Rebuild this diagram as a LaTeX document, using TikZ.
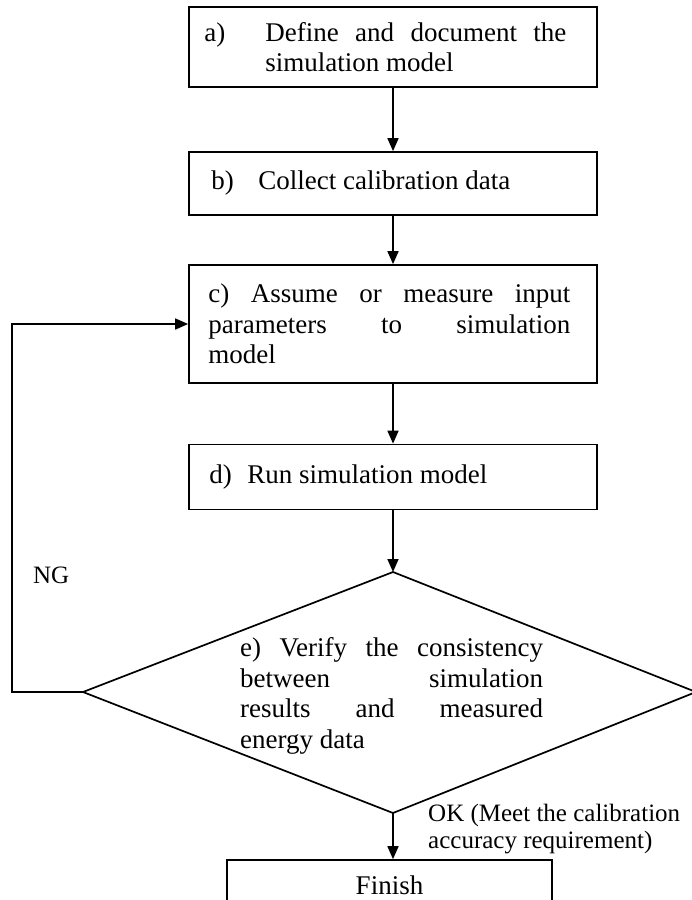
\documentclass[tikz,border=0pt]{standalone}
\usepackage{fontspec}
\setmainfont{Liberation Serif}
\usetikzlibrary{arrows.meta}
\hbadness=10000
\begin{document}
\begin{tikzpicture}[x=1pt,y=-1pt,
  boxst/.style={draw, line width=1.7pt, minimum width=408pt, inner sep=0pt},
  txt/.style={inner sep=0pt, font=\fontsize{27}{30.5}\selectfont, anchor=west},
  lbl/.style={inner sep=0pt, font=\fontsize{25}{27}\selectfont, align=left},
  arr/.style={line width=1.7pt, -{Triangle[length=13pt,width=11pt]}},
  lin/.style={line width=1.7pt, line join=miter}]
\useasboundingbox (0,0) rectangle (692,900);
% boxes
\node[boxst, minimum height=80pt] (a) at (393,47) {};
\node[boxst, minimum height=63pt] (b) at (393,183.5) {};
\node[boxst, minimum height=118pt] (c) at (393,324) {};
\node[boxst, minimum height=65pt] (d) at (393,477) {};
\node[draw, line width=1.7pt, minimum width=325pt, minimum height=50pt, inner sep=0pt] (f) at (389.5,885) {};
% diamond
\coordinate (et) at (393,572);
\coordinate (el) at (83,692);
\coordinate (er) at (696,692);
\coordinate (eb) at (393,813);
\draw[lin] (et) -- (er) -- (eb) -- (el) -- cycle;
% texts
\node[txt] (ta) at ([xshift=16pt]a.west) {\makebox[61pt][l]{a)}\parbox[t]{301pt}{Define and document the\linebreak simulation model}};
\node[txt] (tb) at ([xshift=23pt]b.west) {\makebox[47pt][l]{b)}Collect calibration data};
\node[txt] (tc) at ([xshift=20pt]c.west) {\parbox{362pt}{c) Assume or measure input\linebreak parameters to simulation\linebreak model}};
\node[txt] (td) at ([xshift=21pt]d.west) {\makebox[38pt][l]{d)}Run simulation model};
\node[txt] (te) at (240,696) {\parbox{303pt}{e) Verify the consistency\linebreak between simulation\linebreak results and measured\linebreak energy data}};
\node[txt, anchor=center] (tf) at (f.center) {Finish};
\node[lbl, anchor=west] (ng) at (33,575) {NG};
\node[lbl, anchor=west] (ok) at (428,829) {OK (Meet the calibration\\accuracy requirement)};
% connectors
\draw[arr] (a.south) -- (b.north);
\draw[arr] (b.south) -- (c.north);
\draw[arr] (c.south) -- (d.north);
\draw[arr] (d.south) -- (et);
\draw[arr] (eb) -- (eb |- f.north);
\coordinate (lp) at (12,692);
\draw[arr] (el) -- (lp) |- (c.west);
\end{tikzpicture}
\end{document}
